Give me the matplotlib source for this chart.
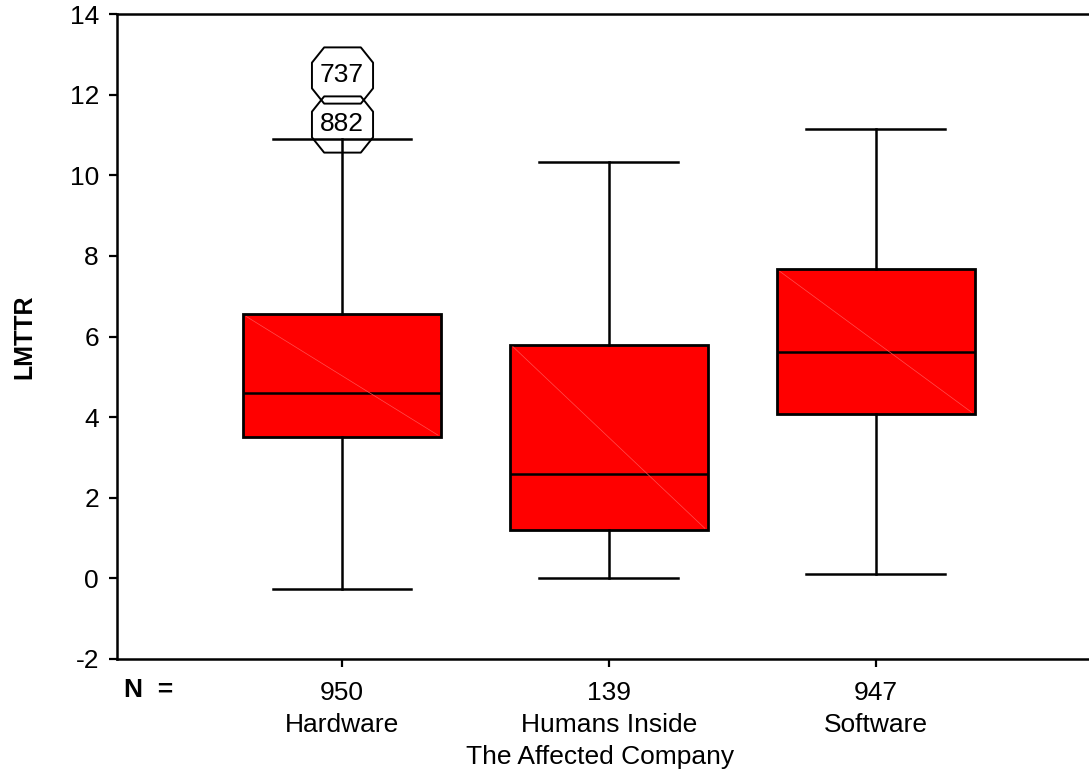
import matplotlib.pyplot as plt
from matplotlib.path import Path

plt.rcParams['font.family'] = ['Liberation Sans', 'DejaVu Sans']
plt.rcParams['axes.unicode_minus'] = False

# box statistics
groups = ["Hardware", "Humans Inside", "Software"]
counts = [950, 139, 947]
whislo = [-0.27, 0.02, 0.12]
q1 = [3.50, 1.19, 4.07]
med = [4.59, 2.58, 5.61]
q3 = [6.55, 5.80, 7.67]
whishi = [10.89, 10.34, 11.14]

# labelled outliers (Hardware only)
outlier_ids = ["882", "737"]
outlier_vals = [11.28, 12.49]

stats = []
for i in range(3):
    stats.append(dict(whislo=whislo[i], q1=q1[i], med=med[i], q3=q3[i],
                      whishi=whishi[i], fliers=[]))

fig = plt.figure(figsize=(10.89, 7.71), dpi=100)
ax = fig.add_axes([0.1074, 0.1453, 0.8926, 0.8365])

pos = [1, 2, 3]
ax.bxp(stats, positions=pos, widths=0.743, patch_artist=True,
       showfliers=False,
       boxprops=dict(facecolor="#ff0000", edgecolor="black", lw=2.0),
       medianprops=dict(color="black", lw=1.8),
       whiskerprops=dict(color="black", lw=1.8),
       capprops=dict(color="black", lw=1.8, zorder=6),
       capwidths=0.52)

# faint diagonal seam seen in the filled boxes
for i, p in enumerate(pos):
    ax.plot([p - 0.36, p + 0.36], [q3[i] - 0.05, q1[i] + 0.05],
            color="#ff5050", lw=0.5, zorder=3)

# octagon marker, a bit wider than tall
c, h, hh = 0.20, 0.25, 0.46
octagon = Path([(-0.5 + c, hh), (0.5 - c, hh), (0.5, hh - h), (0.5, -hh + h),
                (0.5 - c, -hh), (-0.5 + c, -hh), (-0.5, -hh + h),
                (-0.5, hh - h), (-0.5 + c, hh)], closed=True)
for oid, v in zip(outlier_ids, outlier_vals):
    ax.plot(1, v, marker=octagon, markersize=44, markerfacecolor="none",
            markeredgecolor="black", markeredgewidth=1.4, zorder=4)
    ax.text(1, v, oid, ha="center", va="center", fontsize=19, zorder=5)

ax.set_xlim(0.156, 3.80)
ax.set_ylim(-2, 14)
ax.set_yticks(range(-2, 15, 2))
ax.set_xticks(pos)
ax.set_xticklabels([f"{n}\n{g}" for n, g in zip(counts, groups)],
                   linespacing=1.4)
ax.tick_params(axis="both", direction="out", length=6, width=1.6,
               labelsize=19)
ax.tick_params(axis="y", pad=7)
ax.tick_params(axis="x", pad=10)
for lab in ax.get_yticklabels():
    lab.set_va("center_baseline")

for s in ["left", "bottom", "top"]:
    ax.spines[s].set_linewidth(1.8)
ax.spines["right"].set_visible(False)

ax.set_ylabel("LMTTR", fontsize=18, fontweight="bold")
ax.yaxis.set_label_coords(-0.083, 0.5)
fig.text(0.551, 1 - 757 / 771, "The Affected Company", fontsize=19,
         ha="center", va="center")
fig.text(124 / 1089, 1 - 690 / 771, "N  =", fontsize=19, fontweight="bold",
         ha="left", va="center")

fig.savefig("out.png", dpi=100)
